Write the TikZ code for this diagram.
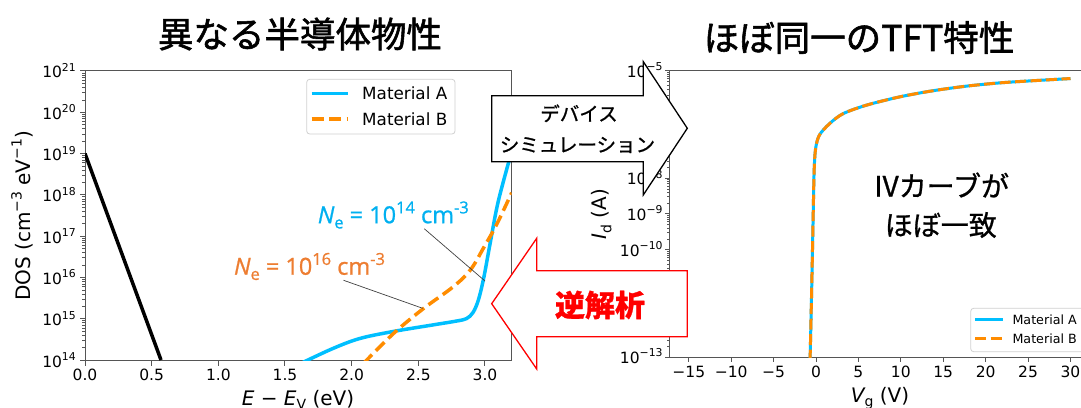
\documentclass[tikz,border=0pt]{standalone}
\usepackage{fontspec}
\setmainfont{DejaVu Sans}
\newfontfamily\jpfont[FakeBold=0.9]{Noto Sans CJK JP}
\newfontfamily\jptitle[FakeBold=1.6]{Noto Sans CJK JP}
\newfontfamily\annfont[FakeBold=0.9]{Open Sans}
\usepackage{tikz}
\usepackage{xcolor}
\definecolor{matA}{HTML}{00BFFF}
\definecolor{matB}{HTML}{FF8C00}
\definecolor{annA}{HTML}{00B0F0}
\definecolor{annB}{HTML}{ED7D31}
\definecolor{axgray}{HTML}{555555}
\newcommand\pxsize[1]{\fontsize{#1}{#1}\selectfont}
\newcommand\upx[1]{\raisebox{0.42em}{\scalebox{0.7}{#1}}}
\newcommand\dnx[1]{\raisebox{-0.22em}{\scalebox{0.7}{#1}}}

\begin{document}
\begin{tikzpicture}[x=1pt,y=-1pt]
\tikzstyle{every node}+=[inner sep=0pt]
\tikzstyle{ticklab}=[font=\pxsize{15.5}]
\tikzstyle{axlab}=[font=\pxsize{20}]
\tikzstyle{frame}=[draw=axgray, line width=1pt]
\tikzstyle{minor}=[draw=axgray, line width=0.6pt]
\tikzstyle{curveA}=[matA, line width=3.5pt]
\tikzstyle{curveB}=[matB, line width=3.5pt, dash pattern=on 12pt off 5.5pt]
\tikzstyle{legbox}=[draw=black!18, fill=white, rounded corners=3pt, line width=0.8pt]
\tikzstyle{leader}=[black!75, line width=0.7pt]
\tikzstyle{blockarrow}=[fill=white, line width=1.3pt, line join=miter]
\useasboundingbox (0,0) rectangle (1081,407);

% titles
\node[font=\jptitle\pxsize{35.5}] (titleL) at (300,34) {異なる半導体物性};
\node[font=\jptitle\pxsize{35.5}] (titleR) at (859,37.5) {ほぼ同一のTFT特性};

% left plot: DOS
\begin{scope}[shift={(85,360)},x=133.33pt,y=41.29pt]
\draw[frame] (0,0) rectangle (3.2,7);
\foreach \e/\t [count=\k] in {0/0.0,0.5/0.5,1/1.0,1.5/1.5,2/2.0,2.5/2.5,3/3.0} {
  \draw[frame] (\e,0) -- ++(0pt,-5.5pt);
  \node[ticklab,anchor=base] (ex\k) at ([yshift=-20.7pt]\e,0) {\t};
}
\foreach \p [count=\k from 0] in {14,...,21} {
  \draw[frame] (0,\k) -- ++(-5.5pt,0pt);
  \node[ticklab,anchor=base east] (dy\p) at ([xshift=-9pt,yshift=-7pt]0,\k) {10\upx{\p}};
}
\foreach \d in {0,...,6}
  \foreach \m in {2,...,9}
    \draw[minor] (0,{\d+log10(\m)}) -- ++(-3pt,0pt);
\begin{scope}
\clip (0,0) rectangle (3.2,7);
\draw[line width=3.5pt] (0,5) -- (0.57,0);
\draw[curveA] plot[smooth,tension=0.55] coordinates {(1.62,-0.08) (1.86,0.28) (2.06,0.52) (2.31,0.69) (2.61,0.85) (2.78,0.94) (2.86,1.0) (2.91,1.15) (2.95,1.45) (2.99,1.98) (3.04,2.85) (3.1,3.85) (3.2,5.05)};
\draw[curveB] plot[smooth,tension=0.6] coordinates {(2.09,-0.08) (2.15,0.12) (2.33,0.69) (2.54,1.25) (2.76,1.77) (2.89,2.18) (2.99,2.72) (3.09,3.3) (3.2,4.05)};
\end{scope}
\end{scope}
\node[axlab,anchor=base] (xlabL) at (298,405) {{\itshape E} − {\itshape E}\dnx{V} (eV)};
\node[axlab,rotate=90] (ylabL) at (22,216) {DOS (cm\upx{−3} eV\upx{−1})};

% left legend
\draw[legbox] (306.7,79.3) rectangle (455,134);
\draw[curveA] (311.7,93.3) -- (348,93.3);
\draw[curveB] (311.7,119) -- (348,119);
\node[font=\pxsize{16.8},anchor=west] (legLA) at (362,93.3) {Material A};
\node[font=\pxsize{16.8},anchor=west] (legLB) at (362,119) {Material B};

% annotations
\node[font=\annfont\pxsize{23.5},text=annA] (neA) at (393.3,215) {{\itshape N}\dnx{e} = 10\upx{14} cm\upx{-3}};
\node[font=\annfont\pxsize{23.5},text=annB] (neB) at (309.5,266.5) {{\itshape N}\dnx{e} = 10\upx{16} cm\upx{-3}};
\coordinate (tipA) at (485,281);
\coordinate (tipB) at (422.7,308.3);
\draw[leader] ([xshift=31pt]neA.south) -- (tipA);
\draw[leader] ([xshift=34pt]neB.south) -- (tipB);

% right plot: IV
\begin{scope}[shift={(816,357)},x=8.482pt,y=35.79pt]
\draw[frame] (33,8) -- (-17.3,8) -- (-17.3,0) -- (33,0);
\foreach \v/\t [count=\k] in {-15/−15,-10/−10,-5/−5,0/0,5/5,10/10,15/15,20/20,25/25,30/30} {
  \draw[frame] (\v,0) -- ++(0pt,-4.5pt);
  \node[ticklab,anchor=base] (vx\k) at ([yshift=-20.7pt]\v,0) {\t};
}
\foreach \p [count=\k from 0] in {13,12,...,5} {
  \draw[frame] (-17.3,\k) -- ++(-4.5pt,0pt);
  \node[ticklab,anchor=base east] (dr\p) at ([xshift=-6.5pt,yshift=-6.5pt]-17.3,\k) {10\upx{−\p}};
}
\foreach \d in {0,...,7}
  \foreach \m in {2,...,9}
    \draw[minor] (-17.3,{\d+log10(\m)}) -- ++(-2.5pt,0pt);
\begin{scope}
\clip (-17.3,0) rectangle (33,8);
\draw[matA, line width=3pt] plot[smooth,tension=0.5] coordinates {(-0.7,-0.1) (-0.5,2) (-0.33,4) (-0.22,5.2) (-0.05,5.82) (0.4,6.2) (1.6,6.52) (3.2,6.8) (6,7.04) (9.9,7.27) (13.8,7.44) (17.8,7.57) (21.7,7.66) (25.6,7.72) (30,7.78)};
\draw[matB, line width=3pt, dash pattern=on 11pt off 4.5pt] plot[smooth,tension=0.5] coordinates {(-0.7,-0.1) (-0.5,2) (-0.33,4) (-0.22,5.2) (-0.05,5.82) (0.4,6.2) (1.6,6.52) (3.2,6.8) (6,7.04) (9.9,7.27) (13.8,7.44) (17.8,7.57) (21.7,7.66) (25.6,7.72) (30,7.78)};
\end{scope}
\end{scope}
\node[axlab,anchor=base] (xlabR) at (880,402) {{\itshape V}\dnx{g} (V)};
\node[axlab,rotate=90] (ylabR) at (601.7,214) {{\itshape I}\dnx{d} (A)};

% right legend
\draw[legbox] (970.7,308.3) rectangle (1095,351.7);
\draw[matA, line width=3pt] (975,319.3) -- (1002.7,319.3);
\draw[matB, line width=3pt, dash pattern=on 11pt off 4.5pt] (975,338.3) -- (1002.7,338.3);
\node[font=\pxsize{12.7},anchor=west] (legRA) at (1012.3,319.3) {Material A};
\node[font=\pxsize{12.7},anchor=west] (legRB) at (1012.3,338.3) {Material B};

\node[font=\jpfont\pxsize{28}] (ivA) at (941.7,185) {IVカーブが};
\node[font=\jpfont\pxsize{28}] (ivB) at (940.8,225) {ほぼ一致};

% block arrows
\draw[blockarrow,draw=black] (491.7,95.7) -- (643.3,95.7) -- (643.3,61.7) -- (687.3,128.3) -- (643.3,194.9) -- (643.3,161.7) -- (491.7,161.7) -- cycle;
\node[font=\jpfont\pxsize{19.5}] (simA) at (579,113.3) {デバイス};
\node[font=\jpfont\pxsize{19.5}] (simB) at (577.5,145) {シミュレーション};
\draw[blockarrow,draw=red] (687.3,270.7) -- (536.7,270.7) -- (536.7,238.3) -- (491.7,303.7) -- (536.7,369) -- (536.7,336.7) -- (687.3,336.7) -- cycle;
\node[font=\jpfont\bfseries\pxsize{30},text=red] (inv) at (600,305) {逆解析};
\end{tikzpicture}
\end{document}
